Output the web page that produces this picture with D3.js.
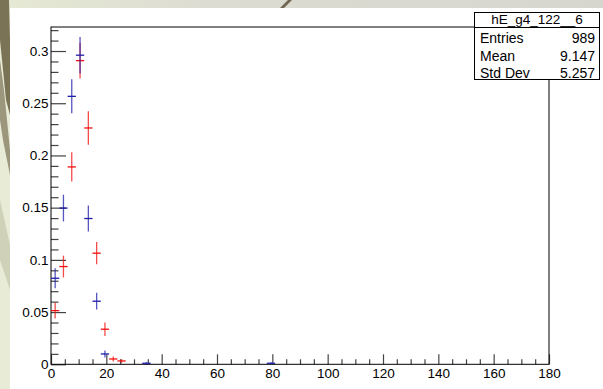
<!DOCTYPE html>
<html>
<head>
<meta charset="utf-8">
<script src="https://cdn.jsdelivr.net/npm/d3@7/dist/d3.min.js"></script>
<style>
  html, body { margin: 0; padding: 0; background: #e7ead5; }
  svg { display: block; }
  text { font-family: "Liberation Sans", Arial, Helvetica, sans-serif; fill: #000; }
</style>
</head>
<body>
<svg id="chart" width="603" height="389"></svg>
<script>
// Normalised energy distributions, bin width 3
const binWidth = 3;

const blueX   = [1.5, 4.5, 7.5, 10.5, 13.5, 16.5, 19.5, 34.5, 79.5];
const blueY   = [0.0824, 0.1496, 0.2566, 0.2960, 0.1396, 0.0604, 0.0099, 0.0010, 0.0010];
const blueErr = [0.0096, 0.0128, 0.0163, 0.0175, 0.0125, 0.0080, 0.0033, 0.0010, 0.0010];

const redX   = [1.5, 4.5, 7.5, 10.5, 13.5, 16.5, 19.5, 22.5, 25.5];
const redY   = [0.0514, 0.0936, 0.1890, 0.2908, 0.2263, 0.1064, 0.0336, 0.0051, 0.0032];
const redErr = [0.0075, 0.0104, 0.0140, 0.0170, 0.0160, 0.0107, 0.0064, 0.0024, 0.0018];

const xMajorTicks = [0, 20, 40, 60, 80, 100, 120, 140, 160, 180];
const yMajorTicks = [0, 0.05, 0.1, 0.15, 0.2, 0.25, 0.3];
const yTickLabels = ["0", "0.05", "0.1", "0.15", "0.2", "0.25", "0.3"];

const statsTitle  = "hE_g4_122__6";
const statsLabels = ["Entries", "Mean", "Std Dev"];
const statsValues = ["989", "9.147", "5.257"];

(function () {
const svg = d3.select("#chart");
const W = 603, H = 389;

// ---- backdrop behind the canvas ----
const bg = svg.append("g");
bg.append("rect").attr("width", W).attr("height", H).attr("fill", "#e8ebd6");
const topGrad = svg.append("defs").append("linearGradient").attr("id", "topStrip");
topGrad.append("stop").attr("offset", "0%").attr("stop-color", "#e6e9d4");
topGrad.append("stop").attr("offset", "35%").attr("stop-color", "#dcdcd2");
topGrad.append("stop").attr("offset", "100%").attr("stop-color", "#d6d6cf");
bg.append("rect").attr("x", 0).attr("y", 0).attr("width", W).attr("height", 9).attr("fill", "url(#topStrip)");
bg.append("path").attr("d", "M0,0 L9,0 L10,40 L10,115 L6,100 L2,60 L0,40 Z").attr("fill", "#7b7356");
bg.append("path").attr("d", "M0,60 L4,90 L10,150 L10,175 L3,140 L0,120 Z").attr("fill", "#9c967c");
bg.append("path").attr("d", "M0,200 L10,245 L10,290 L0,260 Z").attr("fill", "#cfd2b8");
bg.append("path").attr("d", "M288,0 L292,0 L283,9 L279,9 Z").attr("fill", "#6f6650");

// ---- white canvas ----
svg.append("rect").attr("x", 10).attr("y", 8).attr("width", W - 10).attr("height", H - 8).attr("fill", "#fff");

// ---- frame and scales ----
const pLeft = 51, pRight = 549, pTop = 27, pBottom = 364.3;
const x = d3.scaleLinear().domain([0, 180]).range([pLeft, pRight]);
const y = d3.scaleLinear().domain([0, 0.323]).range([pBottom, pTop]);

const xMinor = d3.range(0, 181, 5).filter(v => v % 20 !== 0);
const yMinor = d3.range(0, 33).map(v => v / 100).filter(v => Math.round(v * 100) % 5 !== 0);

const axisG = svg.append("g");

// x axis: major + minor ticks pointing into the frame
axisG.append("g").attr("transform", `translate(0,${pBottom})`)
  .call(d3.axisBottom(x).tickValues(xMinor).tickSize(-5).tickFormat(""))
  .call(g => g.select(".domain").remove());
axisG.append("g").attr("transform", `translate(0,${pBottom})`)
  .call(d3.axisBottom(x).tickValues(xMajorTicks).tickSize(-10).tickPadding(4.5).tickFormat(d3.format("d")))
  .call(g => g.select(".domain").remove());

// y axis
axisG.append("g").attr("transform", `translate(${pLeft},0)`)
  .call(d3.axisLeft(y).tickValues(yMinor).tickSize(-7.5).tickFormat(""))
  .call(g => g.select(".domain").remove());
axisG.append("g").attr("transform", `translate(${pLeft},0)`)
  .call(d3.axisLeft(y).tickValues(yMajorTicks).tickSize(-15).tickPadding(2.5)
    .tickFormat((d, i) => yTickLabels[i]))
  .call(g => g.select(".domain").remove());

axisG.selectAll(".tick line").attr("stroke", "#444").attr("stroke-width", 1.2);
axisG.selectAll("text")
  .style("font-family", '"Liberation Sans", Arial, Helvetica, sans-serif')
  .style("font-size", "13.5px").attr("fill", "#000");

// frame box
svg.append("rect")
  .attr("x", pLeft).attr("y", pTop)
  .attr("width", pRight - pLeft).attr("height", pBottom - pTop)
  .attr("fill", "none").attr("stroke", "#000").attr("stroke-width", 1);

// ---- error-bar crosses ----
function drawSeries(xs, ys, es, color) {
  const pts = xs.map((v, i) => ({ x: v, y: ys[i], e: es[i] }));
  const g = svg.append("g").attr("stroke", color).attr("stroke-width", 1.3).attr("fill", "none");
  g.selectAll("line.h").data(pts).join("line").attr("class", "h")
    .attr("x1", d => x(d.x - binWidth / 2)).attr("x2", d => x(d.x + binWidth / 2))
    .attr("y1", d => y(d.y)).attr("y2", d => y(d.y));
  g.selectAll("line.v").data(pts).join("line").attr("class", "v")
    .attr("stroke-opacity", 0.75)
    .attr("x1", d => x(d.x)).attr("x2", d => x(d.x))
    .attr("y1", d => y(d.y - d.e)).attr("y2", d => y(d.y + d.e));
}
drawSeries(redX, redY, redErr, "#f01010");
drawSeries(blueX, blueY, blueErr, "#1e1ea8");

// ---- statistics box ----
const bx = 474.5, by = 12.5, bw = 125, bh = 67;
const stats = svg.append("g");
stats.append("rect").attr("x", bx).attr("y", by).attr("width", bw).attr("height", bh)
  .attr("fill", "#fff").attr("stroke", "#000").attr("stroke-width", 1);
stats.append("line").attr("x1", bx).attr("x2", bx + bw).attr("y1", 27.5).attr("y2", 27.5)
  .attr("stroke", "#000").attr("stroke-width", 1);
stats.append("text").attr("x", bx + bw / 2).attr("y", 23.5).attr("text-anchor", "middle")
  .style("font-size", "13.5px").text(statsTitle);
const rowBase = [43.3, 60.5, 77.5];
stats.selectAll("text.lbl").data(statsLabels).join("text").attr("class", "lbl")
  .attr("x", 480).attr("y", (d, i) => rowBase[i]).style("font-size", "14px").text(d => d);
stats.selectAll("text.val").data(statsValues).join("text").attr("class", "val")
  .attr("x", 595).attr("y", (d, i) => rowBase[i]).attr("text-anchor", "end")
  .style("font-size", "14px").text(d => d);
})();
</script>
</body>
</html>
